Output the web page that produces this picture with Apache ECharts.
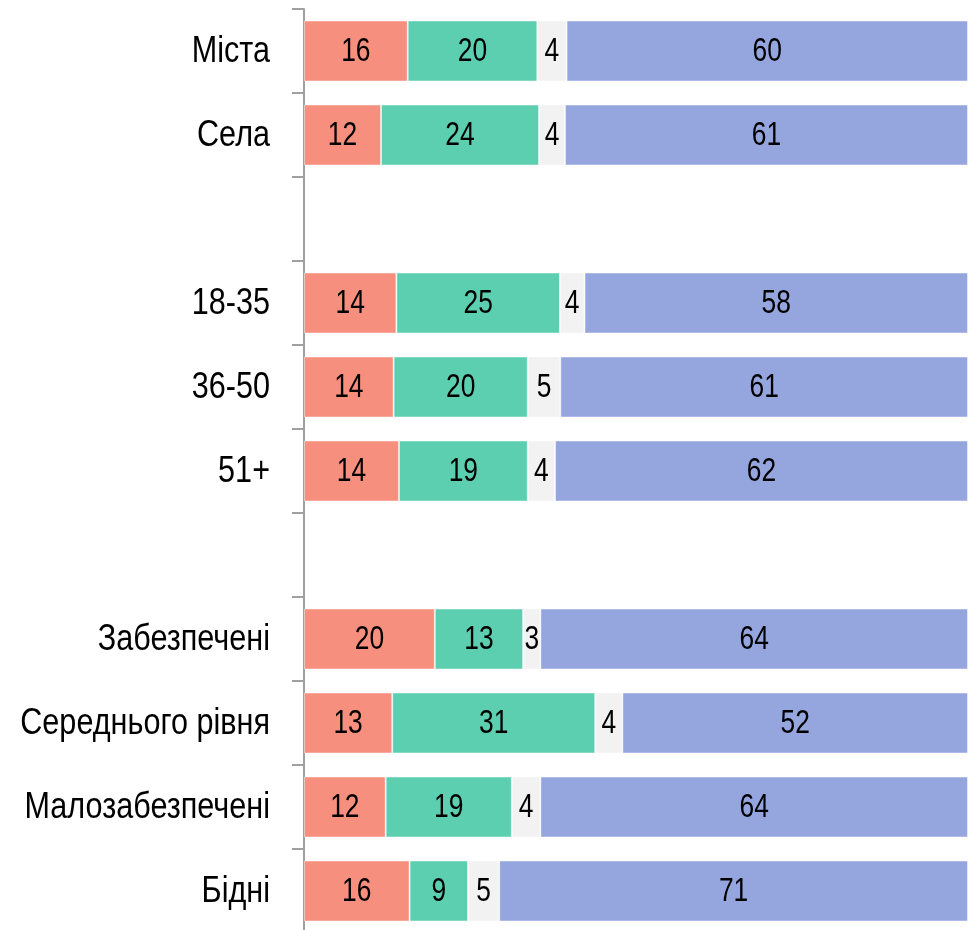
<!DOCTYPE html>
<html>
<head>
<meta charset="utf-8">
<script src="https://cdn.jsdelivr.net/npm/echarts@6/dist/echarts.min.js"></script>
<style>
html,body{margin:0;padding:0;background:#fff;}
#chart{width:971px;height:930px;}
</style>
</head>
<body>
<div id="chart"></div>
<script>
var categories = ['Міста', 'Села', ' ', '18-35', '36-50', '51+', '  ', 'Забезпечені', 'Середнього рівня', 'Малозабезпечені', 'Бідні'];
// shares (%); labels show them rounded
var seriesA = [15.6, 11.6, null, 13.9, 13.5, 14.3, null, 19.7, 13.3, 12.3, 15.9];
var seriesB = [19.5, 23.8, null, 24.6, 20.2, 19.4, null, 13.3, 30.6, 19.0, 8.8];
var seriesC = [4.4, 3.9, null, 3.7, 4.9, 4.1, null, 2.6, 4.1, 4.3, 4.7];
var seriesD = [60.4, 60.7, null, 57.7, 61.4, 62.2, null, 64.4, 52.1, 64.4, 70.6];
var colors = ['#f68f7e', '#5dcfb1', '#f2f2f2', '#95a6de'];

var FONT = "'Liberation Sans', Arial, sans-serif";
var all = [seriesA, seriesB, seriesC, seriesD];
var totals = categories.map(function (c, i) {
  var s = 0;
  all.forEach(function (arr) { if (arr[i] != null) s += arr[i]; });
  return s;
});

var series = all.map(function (arr, k) {
  return {
    type: 'bar',
    stack: 'total',
    barWidth: '72.6%',
    data: arr.map(function (v, i) { return v == null ? null : v / totals[i] * 100; }),
    itemStyle: { color: colors[k], borderColor: 'rgba(255,255,255,0.45)', borderWidth: 1 },
    label: { show: false },
    emphasis: { disabled: true },
    animation: false
  };
});

// value labels: centre of each stacked segment
var valueLabels = [];
categories.forEach(function (c, i) {
  var acc = 0;
  all.forEach(function (arr) {
    var v = arr[i];
    if (v == null) return;
    var w = v / totals[i] * 100;
    valueLabels.push([acc + w / 2, i, Math.round(v)]);
    acc += w;
  });
});
series.push({
  type: 'custom',
  coordinateSystem: 'cartesian2d',
  silent: true,
  z: 10,
  data: valueLabels,
  encode: { x: 0, y: 1 },
  renderItem: function (params, api) {
    var pt = api.coord([api.value(0), api.value(1)]);
    return {
      type: 'text',
      x: pt[0], y: pt[1] + 1,
      scaleX: 0.8,
      style: {
        text: String(api.value(2)),
        fill: '#000',
        fontFamily: FONT,
        fontSize: 33,
        align: 'center',
        verticalAlign: 'middle'
      }
    };
  }
});

// category labels, drawn with a horizontal squeeze to mimic a narrow font
var catLabels = categories.map(function (c, i) { return [0, i]; });
series.push({
  type: 'custom',
  coordinateSystem: 'cartesian2d',
  silent: true,
  clip: false,
  z: 10,
  data: catLabels,
  encode: { x: 0, y: 1 },
  renderItem: function (params, api) {
    var idx = api.value(1);
    var pt = api.coord([0, idx]);
    return {
      type: 'text',
      x: pt[0] - 34, y: pt[1] + 1,
      scaleX: 0.85,
      style: {
        text: categories[idx].trim(),
        fill: '#000',
        fontFamily: FONT,
        fontSize: 36,
        align: 'right',
        verticalAlign: 'middle'
      }
    };
  }
});

var chart = echarts.init(document.getElementById('chart'));
chart.setOption({
  animation: false,
  grid: { left: 304, right: 3, top: 9, height: 924, containLabel: false, outerBoundsMode: 'none' },
  xAxis: { type: 'value', min: 0, max: 100, show: false },
  yAxis: {
    type: 'category',
    inverse: true,
    data: categories,
    axisLine: { show: true, lineStyle: { color: '#a0a0a0', width: 2 } },
    axisTick: { show: true, length: 12, lineStyle: { color: '#a0a0a0', width: 2 } },
    axisLabel: { show: false },
    splitLine: { show: false }
  },
  series: series
});
</script>
</body>
</html>
